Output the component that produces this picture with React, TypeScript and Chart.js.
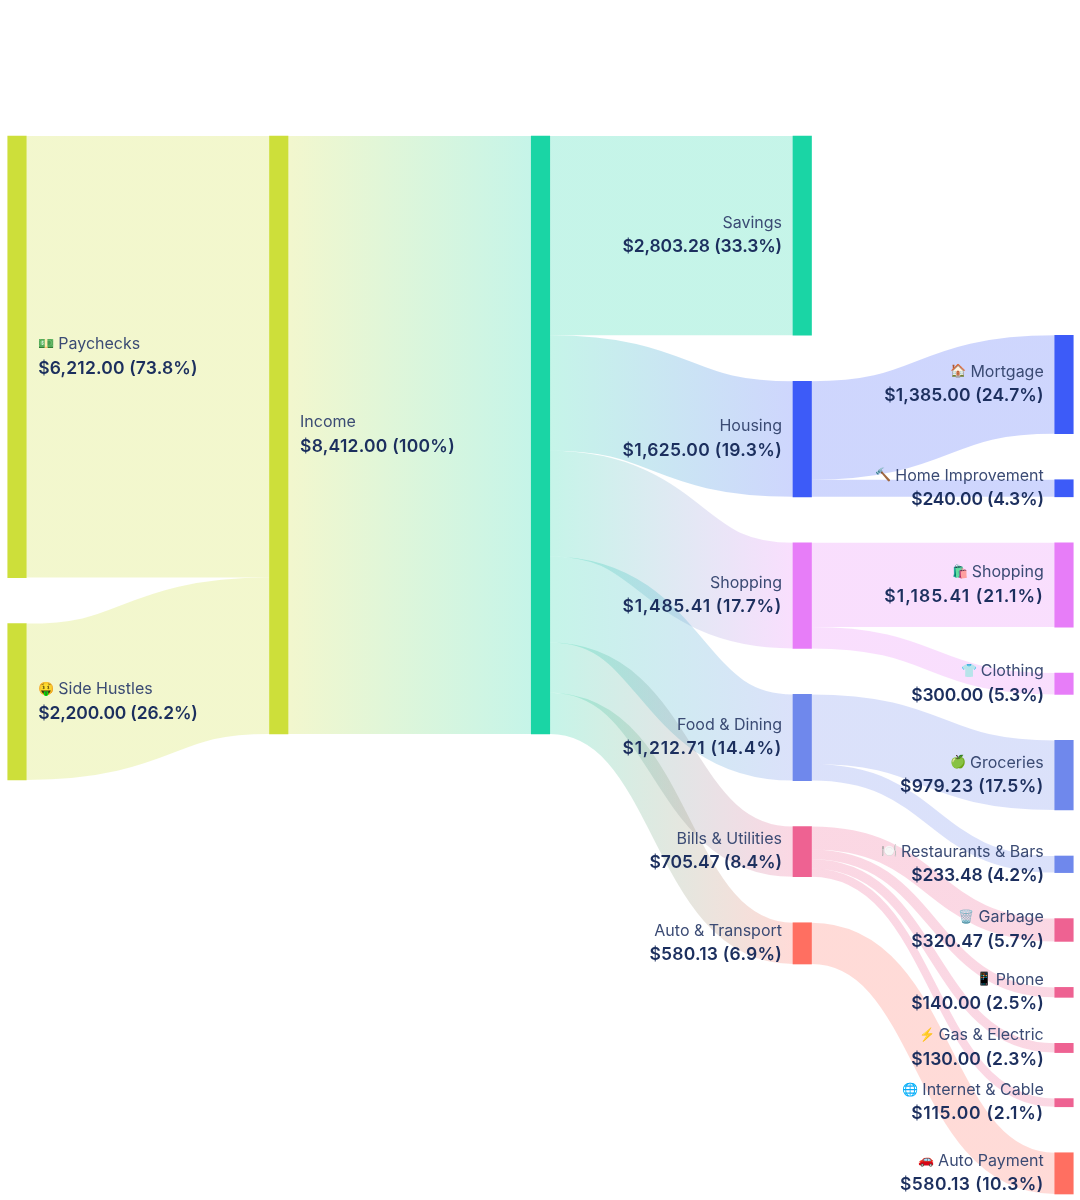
import React, { useEffect, useRef } from "react";
import { Chart, registerables } from "chart.js";

Chart.register(...registerables);

// ---- Data ----
const sourceNames = ["💵 Paychecks", "🤑 Side Hustles"];
const sourceValues = [6212.0, 2200.0];
const sourceShares = ["73.8%", "26.2%"];

const incomeNames = ["Income"];
const incomeValues = [8412.0];
const incomeShares = ["100%"];

const budgetValues = [8412.0];

const categoryNames = ["Savings", "Housing", "Shopping", "Food & Dining", "Bills & Utilities", "Auto & Transport"];
const categoryValues = [2803.28, 1625.0, 1485.41, 1212.71, 705.47, 580.13];
const categoryShares = ["33.3%", "19.3%", "17.7%", "14.4%", "8.4%", "6.9%"];

const detailNames = [
  "🏠 Mortgage", "🔨 Home Improvement", "🛍️ Shopping", "👕 Clothing", "🍏 Groceries",
  "🍽️ Restaurants & Bars", "🗑️ Garbage", "📱 Phone", "⚡ Gas & Electric", "🌐 Internet & Cable", "🚗 Auto Payment",
];
const detailValues = [1385.0, 240.0, 1185.41, 300.0, 979.23, 233.48, 320.47, 140.0, 130.0, 115.0, 580.13];
const detailShares = ["24.7%", "4.3%", "21.1%", "5.3%", "17.5%", "4.2%", "5.7%", "2.5%", "2.3%", "2.1%", "10.3%"];
const detailParents = [1, 1, 2, 2, 3, 3, 4, 4, 4, 4, 5];

// ---- Styles ----
const LIME = "#CDDF3A";
const TEAL = "#1AD5A5";
const categoryColors = [TEAL, "#3D5BF8", "#E77DF8", "#6F88EC", "#EE6292", "#FF6F61"];
const LINK_ALPHA = 0.25;
const CURVE = 0.52;
const PX_PER_DOLLAR = 598 / 8412;
const GAP = 46 / PX_PER_DOLLAR;
const TOP_PX = 136;
const COL_FIRST_PX = 17;
const COL_STEP_PX = 261.75;
const BAR_PX = 18.5;
const W = 1080;
const H = 1200;
const FONT = "Inter, 'Noto Sans', sans-serif";

type Node = { col: number; y0: number; y1: number; color: string; name?: string; value: number; share?: string; out: number; inn: number };

function stack(col: number, start: number, values: number[], colors: string[], names?: string[], shares?: string[]): Node[] {
  let y = start;
  return values.map((v, i) => {
    const n: Node = { col, y0: y, y1: y + v, color: colors[i], name: names?.[i], value: v, share: shares?.[i], out: 0, inn: 0 };
    y += v + GAP;
    return n;
  });
}

const sourceNodes = stack(0, 0, sourceValues, sourceValues.map(() => LIME), sourceNames, sourceShares);
const incomeNodes = stack(1, 0, incomeValues, [LIME], incomeNames, incomeShares);
const budgetNodes = stack(2, 0, budgetValues, [TEAL]);
const categoryNodes = stack(3, 0, categoryValues, categoryColors, categoryNames, categoryShares);
const detailNodes = stack(4, categoryValues[0], detailValues, detailParents.map((p) => categoryColors[p]), detailNames, detailShares);
const allNodes = [...sourceNodes, ...incomeNodes, ...budgetNodes, ...categoryNodes, ...detailNodes];

type Link = { a: Node; b: Node; value: number };
const links: Link[] = [
  ...sourceNodes.map((a) => ({ a, b: incomeNodes[0], value: a.value })),
  { a: incomeNodes[0], b: budgetNodes[0], value: incomeValues[0] },
  ...categoryNodes.map((b) => ({ a: budgetNodes[0], b, value: b.value })),
  ...detailNodes.map((b, i) => ({ a: categoryNodes[detailParents[i]], b, value: b.value })),
];

function withAlpha(hex: string, a: number) {
  const n = parseInt(hex.slice(1), 16);
  return `rgba(${(n >> 16) & 255},${(n >> 8) & 255},${n & 255},${a})`;
}

const fmtMoney = (v: number) =>
  "$" + v.toLocaleString("en-US", { minimumFractionDigits: 2, maximumFractionDigits: 2 });

const sankeyPlugin = {
  id: "sankey",
  beforeDatasetsDraw(chart: any) {
    const { ctx, scales } = chart;
    const { x, y } = scales;
    links.forEach((n) => { n.a.out = 0; n.b.inn = 0; });
    ctx.save();
    for (const l of links) {
      const sy = l.a.y0 + l.a.out + l.value / 2;
      const ty = l.b.y0 + l.b.inn + l.value / 2;
      l.a.out += l.value;
      l.b.inn += l.value;
      const x0 = x.getPixelForValue(l.a.col) + BAR_PX / 2;
      const x1 = x.getPixelForValue(l.b.col) - BAR_PX / 2;
      const y0 = y.getPixelForValue(sy);
      const y1 = y.getPixelForValue(ty);
      const g = ctx.createLinearGradient(x0, 0, x1, 0);
      g.addColorStop(0, withAlpha(l.a.color, LINK_ALPHA));
      g.addColorStop(1, withAlpha(l.b.color, LINK_ALPHA));
      ctx.strokeStyle = g;
      ctx.lineWidth = Math.abs(y.getPixelForValue(l.value) - y.getPixelForValue(0));
      ctx.lineCap = "butt";
      ctx.beginPath();
      ctx.moveTo(x0, y0);
      ctx.bezierCurveTo(x0 + (x1 - x0) * CURVE, y0, x1 - (x1 - x0) * CURVE, y1, x1, y1);
      ctx.stroke();
    }
    ctx.restore();
  },
  afterDatasetsDraw(chart: any) {
    const { ctx, scales } = chart;
    const { x, y } = scales;
    ctx.save();
    ctx.textBaseline = "middle";
    for (const n of allNodes) {
      if (!n.name) continue;
      const left = n.col < 2;
      const px = x.getPixelForValue(n.col) + (left ? BAR_PX / 2 + 12 : -BAR_PX / 2 - 11);
      const c = y.getPixelForValue((n.y0 + n.y1) / 2);

      // name, with its emoji set a little smaller than the words
      const parts = n.name.split(" ");
      const hasEmoji = /[^\x00-\x7F]/.test(parts[0]);
      const emoji = hasEmoji ? parts[0] : "";
      const words = hasEmoji ? parts.slice(1).join(" ") : n.name;
      ctx.font = `400 16px ${FONT}`;
      const wordsW = ctx.measureText(words).width;
      ctx.font = `13px ${FONT}`;
      const emojiW = emoji ? ctx.measureText(emoji).width + 4 : 0;
      ctx.textAlign = "left";
      const start = left ? px : px - wordsW - emojiW;
      if (emoji) {
        ctx.fillStyle = "#000";
        ctx.fillText(emoji, start, c - 13);
      }
      ctx.fillStyle = "#3B4B74";
      ctx.font = `400 16px ${FONT}`;
      ctx.fillText(words, start + emojiW, c - 12.5);

      // value, spaced so digits take equal width (figures in the reference are tabular)
      const text = `${fmtMoney(n.value)} (${n.share})`;
      const c2 = ctx as any;
      c2.letterSpacing = "0px";
      ctx.fillStyle = "#1C2F5E";
      ctx.font = `600 17px ${FONT}`;
      const tabular = ctx.measureText(text.replace(/\d/g, "0")).width;
      ctx.font = `600 17.5px ${FONT}`;
      const natural = ctx.measureText(text).width;
      c2.letterSpacing = `${(tabular - natural) / text.length}px`;
      ctx.textAlign = left ? "left" : "right";
      ctx.fillText(text, px, c + 11.5);
      c2.letterSpacing = "0px";
    }
    ctx.restore();
  },
};

export default function App() {
  const ref = useRef<HTMLCanvasElement>(null);
  useEffect(() => {
    const chart = new Chart(ref.current!, {
      type: "bar",
      data: {
        datasets: [
          {
            data: allNodes.map((n) => ({ x: n.col, y: [n.y0, n.y1] })) as any,
            backgroundColor: allNodes.map((n) => n.color),
            borderWidth: 0,
            barThickness: BAR_PX,
          },
        ],
      },
      options: {
        responsive: false,
        animation: false,
        devicePixelRatio: 1,
        layout: { padding: 0 },
        plugins: { legend: { display: false }, tooltip: { enabled: false } },
        scales: {
          x: { type: "linear", display: false, offset: false, min: -COL_FIRST_PX / COL_STEP_PX, max: (W - COL_FIRST_PX) / COL_STEP_PX },
          y: { type: "linear", display: false, reverse: true, min: -TOP_PX / PX_PER_DOLLAR, max: (H - TOP_PX) / PX_PER_DOLLAR },
        },
      },
      plugins: [sankeyPlugin as any],
    });
    return () => chart.destroy();
  }, []);
  return (
    <canvas
      ref={ref}
      width={W}
      height={H}
      style={{ display: "block", position: "absolute", left: 0, top: 0, width: W, height: H, background: "#fff" }}
    />
  );
}
